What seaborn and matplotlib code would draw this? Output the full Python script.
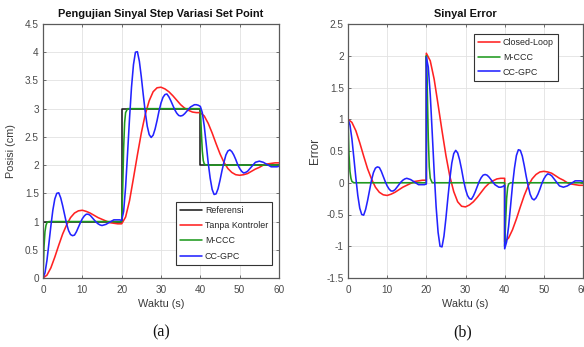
import matplotlib
matplotlib.use("Agg")
import matplotlib.pyplot as plt
import seaborn as sns

# ---------------- data ----------------
# Left panel: position response
ref_t = [0, 20, 40, 60]
ref_v = [1, 3, 2, 2]

red_t = list(range(0, 61))
red_v = [0.00, 0.05, 0.18, 0.37, 0.58, 0.78, 0.94, 1.07, 1.15, 1.19, 1.20,
         1.18, 1.15, 1.11, 1.07, 1.04, 1.01, 0.98, 0.97, 0.96, 0.96,
         1.08, 1.37, 1.77, 2.18, 2.57, 2.90, 3.14, 3.30, 3.37, 3.38,
         3.35, 3.30, 3.23, 3.15, 3.07, 3.01, 2.97, 2.94, 2.93, 2.93,
         2.87, 2.74, 2.57, 2.38, 2.20, 2.05, 1.94, 1.87, 1.83, 1.82,
         1.83, 1.85, 1.89, 1.93, 1.96, 2.00, 2.02, 2.03, 2.04, 2.04]

grn_t = [0, 0.25, 0.5, 0.75, 1, 1.5, 20, 20.25, 20.5, 20.75, 21, 21.5,
         40, 40.25, 40.5, 40.75, 41, 41.5, 60]
grn_v = [0, 0.55, 0.82, 0.93, 0.98, 1.0, 1.0, 1.55, 2.3, 2.75, 2.93, 3.0,
         3.0, 2.6, 2.25, 2.08, 2.02, 2.0, 2.0]

blu_t = [i * 0.5 for i in range(121)]
blu_v = [0.00, 0.09, 0.31, 0.61, 0.92, 1.20, 1.40, 1.50, 1.51, 1.42,
         1.28, 1.12, 0.96, 0.84, 0.77, 0.75, 0.76, 0.82, 0.90, 0.98,
         1.05, 1.10, 1.13, 1.13, 1.11, 1.07, 1.03, 0.99, 0.96, 0.94,
         0.93, 0.94, 0.95, 0.97, 0.99, 1.01, 1.03, 1.03, 1.03, 1.03, 1.02,
         1.18, 1.61, 2.21, 2.83, 3.38, 3.78, 4.00, 4.01, 3.84, 3.56,
         3.24, 2.94, 2.69, 2.54, 2.49, 2.53, 2.64, 2.79, 2.96, 3.10,
         3.20, 3.25, 3.26, 3.21, 3.14, 3.06, 2.98, 2.92, 2.88, 2.87,
         2.88, 2.91, 2.95, 2.99, 3.03, 3.05, 3.07, 3.07, 3.06, 3.04,
         2.93, 2.69, 2.37, 2.04, 1.77, 1.57, 1.48, 1.49, 1.58, 1.73,
         1.90, 2.05, 2.18, 2.25, 2.27, 2.24, 2.18, 2.10, 2.01, 1.94,
         1.89, 1.86, 1.87, 1.89, 1.93, 1.97, 2.01, 2.05, 2.06, 2.07,
         2.06, 2.05, 2.03, 2.01, 1.99, 1.97, 1.97, 1.97, 1.97, 1.98]

# Right panel: error signals
ered_t = list(range(0, 21)) + list(range(20, 41)) + list(range(40, 61))
ered_v = [1.00, 0.95, 0.82, 0.63, 0.42, 0.22, 0.06, -0.07, -0.15, -0.19, -0.20,
          -0.18, -0.15, -0.11, -0.07, -0.04, -0.01, 0.02, 0.03, 0.04, 0.04,
          2.04, 1.92, 1.63, 1.23, 0.82, 0.43, 0.10, -0.14, -0.30, -0.37, -0.38,
          -0.35, -0.30, -0.23, -0.15, -0.07, -0.01, 0.03, 0.06, 0.07, 0.07,
          -0.93, -0.87, -0.74, -0.57, -0.38, -0.20, -0.05, 0.06, 0.13, 0.17, 0.18,
          0.17, 0.15, 0.11, 0.07, 0.04, 0.00, -0.02, -0.03, -0.04, -0.04]

egrn_t = [0, 0.25, 0.5, 0.75, 1, 1.5, 20, 20, 20.25, 20.5, 20.75, 21, 21.5,
          40, 40, 40.25, 40.5, 40.75, 41, 41.5, 60]
egrn_v = [1.0, 0.45, 0.18, 0.07, 0.02, 0.0, 0.0, 2.0, 1.45, 0.7, 0.25, 0.07, 0.0,
          0.0, -1.0, -0.6, -0.25, -0.08, -0.02, 0.0, 0.0]

eblu_t = ([i * 0.5 for i in range(41)] + [20 + i * 0.5 for i in range(41)]
          + [40 + i * 0.5 for i in range(41)])
eblu_v = [1.00, 0.91, 0.69, 0.39, 0.08, -0.20, -0.40, -0.50, -0.51, -0.42,
          -0.28, -0.12, 0.04, 0.16, 0.23, 0.25, 0.24, 0.18, 0.10, 0.02,
          -0.05, -0.10, -0.13, -0.13, -0.11, -0.07, -0.03, 0.01, 0.04, 0.06,
          0.07, 0.06, 0.05, 0.03, 0.01, -0.01, -0.03, -0.03, -0.03, -0.03, -0.02,
          1.98, 1.82, 1.39, 0.79, 0.17, -0.38, -0.78, -1.00, -1.01, -0.84,
          -0.56, -0.24, 0.06, 0.31, 0.46, 0.51, 0.47, 0.36, 0.21, 0.04,
          -0.10, -0.20, -0.25, -0.26, -0.21, -0.14, -0.06, 0.02, 0.08, 0.12,
          0.13, 0.12, 0.09, 0.05, 0.01, -0.03, -0.05, -0.07, -0.07, -0.06, -0.04,
          -1.04, -0.93, -0.69, -0.37, -0.04, 0.23, 0.43, 0.52, 0.51, 0.42,
          0.27, 0.10, -0.05, -0.18, -0.25, -0.27, -0.24, -0.18, -0.10, -0.01,
          0.06, 0.11, 0.14, 0.13, 0.11, 0.07, 0.03, -0.01, -0.05, -0.06,
          -0.07, -0.06, -0.05, -0.03, -0.01, 0.01, 0.03, 0.03, 0.03, 0.03, 0.02]

x_ticks = [0, 10, 20, 30, 40, 50, 60]
yl_ticks = [0, 0.5, 1, 1.5, 2, 2.5, 3, 3.5, 4, 4.5]
yl_labels = ["0", "0.5", "1", "1.5", "2", "2.5", "3", "3.5", "4", "4.5"]
yr_ticks = [-1.5, -1, -0.5, 0, 0.5, 1, 1.5, 2, 2.5]
yr_labels = ["-1.5", "-1", "-0.5", "0", "0.5", "1", "1.5", "2", "2.5"]

# ---------------- style ----------------
sns.set_theme(style="whitegrid")
plt.rcParams['font.family'] = ['Liberation Sans', 'DejaVu Sans']

C_BLACK = "#1e1e1e"
C_RED = "#ff2222"
C_GREEN = "#1f9a1f"
C_BLUE = "#2323ff"
LW = 1.15

W, H = 584, 347
fig = plt.figure(figsize=(W / 100, H / 100), dpi=100)
fig.patch.set_facecolor("white")


def px_axes(x0, y0, x1, y1):
    return fig.add_axes([x0 / W, 1 - y1 / H, (x1 - x0) / W, (y1 - y0) / H])


axL = px_axes(43, 24, 279, 278)
axR = px_axes(348, 24, 583, 278)


def style_axes(ax, yticks, ylabels, ylim):
    ax.set_facecolor("white")
    ax.set_xlim(0, 60)
    ax.set_ylim(*ylim)
    ax.set_xticks(x_ticks)
    ax.set_xticklabels([str(v) for v in x_ticks])
    ax.set_yticks(yticks)
    ax.set_yticklabels(ylabels)
    ax.grid(True, color="#e2e2e2", linewidth=0.6)
    for s in ax.spines.values():
        s.set_visible(True)
        s.set_color("#5a5a5a")
        s.set_linewidth(0.9)
    ax.tick_params(axis="both", which="both", direction="in", length=2.5,
                   width=0.6, color="#5a5a5a", labelsize=7.2,
                   labelcolor="#4a4a4a", top=True, right=True,
                   left=True, bottom=True)
    ax.tick_params(axis="x", pad=5)
    ax.tick_params(axis="y", pad=3)


# Left panel
sns.lineplot(x=ref_t, y=ref_v, ax=axL, color=C_BLACK, lw=LW,
             drawstyle="steps-post", estimator=None, sort=False, label="Referensi")
sns.lineplot(x=red_t, y=red_v, ax=axL, color=C_RED, lw=LW,
             estimator=None, sort=False, label="Tanpa Kontroler")
sns.lineplot(x=grn_t, y=grn_v, ax=axL, color=C_GREEN, lw=LW,
             estimator=None, sort=False, label="M-CCC")
sns.lineplot(x=blu_t, y=blu_v, ax=axL, color=C_BLUE, lw=LW,
             estimator=None, sort=False, label="CC-GPC")
style_axes(axL, yl_ticks, yl_labels, (0, 4.5))
axL.set_title("Pengujian Sinyal Step Variasi Set Point", fontsize=7.9,
              fontweight="bold", color="#111111", pad=5)
axL.set_xlabel("Waktu (s)", fontsize=7.8, color="#3a3a3a", labelpad=3)
axL.set_ylabel("Posisi (cm)", fontsize=7.8, color="#3a3a3a", labelpad=6)
legL = axL.legend(loc="upper left", bbox_to_anchor=((176 - 43) / 236, (278 - 202) / 254),
                  fontsize=6.4, frameon=True, fancybox=False, framealpha=1,
                  edgecolor="#333333", handlelength=2.5, handletextpad=0.3,
                  labelspacing=0.7, borderpad=0.45, borderaxespad=0)
legL.get_frame().set_linewidth(0.8)

# Right panel
sns.lineplot(x=ered_t, y=ered_v, ax=axR, color=C_RED, lw=LW,
             estimator=None, sort=False, label="Closed-Loop")
sns.lineplot(x=egrn_t, y=egrn_v, ax=axR, color=C_GREEN, lw=LW,
             estimator=None, sort=False, label="M-CCC")
sns.lineplot(x=eblu_t, y=eblu_v, ax=axR, color=C_BLUE, lw=LW,
             estimator=None, sort=False, label="CC-GPC")
style_axes(axR, yr_ticks, yr_labels, (-1.5, 2.5))
axR.set_title("Sinyal Error", fontsize=7.9, fontweight="bold",
              color="#111111", pad=5)
axR.set_xlabel("Waktu (s)", fontsize=7.8, color="#3a3a3a", labelpad=3)
axR.set_ylabel("Error", fontsize=8.5, color="#3a3a3a", labelpad=4)
legR = axR.legend(loc="upper left", bbox_to_anchor=((474 - 348) / 235, (278 - 34) / 254),
                  fontsize=6.4, frameon=True, fancybox=False, framealpha=1,
                  edgecolor="#333333", handlelength=2.5, handletextpad=0.3,
                  labelspacing=0.65, borderpad=0.45, borderaxespad=0)
legR.get_frame().set_linewidth(0.8)

# captions
fig.text(161 / W, 1 - 332 / H, "(a)", ha="center", va="center",
         fontsize=11.5, family=["Liberation Serif", "DejaVu Serif"], color="#111111")
fig.text(463 / W, 1 - 332 / H, "(b)", ha="center", va="center",
         fontsize=11.5, family=["Liberation Serif", "DejaVu Serif"], color="#111111")

fig.savefig("out.png", dpi=100, facecolor="white")
